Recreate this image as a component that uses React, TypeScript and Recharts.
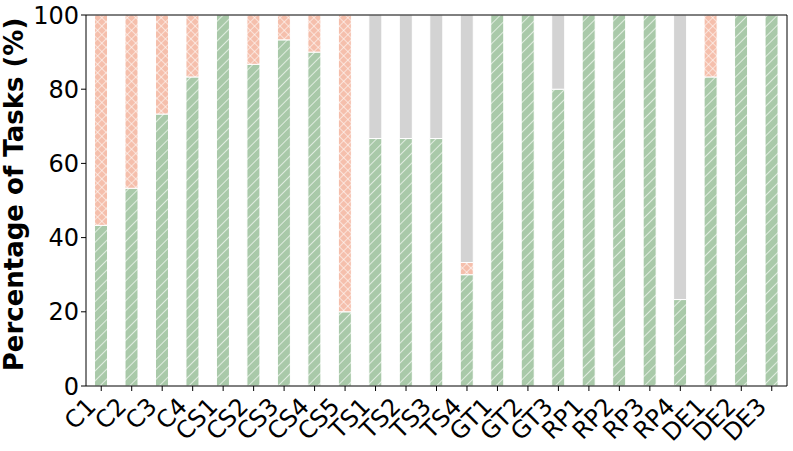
import { BarChart, Bar, XAxis, YAxis } from 'recharts'

const categories = [
    "C1", "C2", "C3", "C4", "CS1", "CS2", "CS3", "CS4", "CS5",
    "TS1", "TS2", "TS3", "TS4", "GT1", "GT2", "GT3",
    "RP1", "RP2", "RP3", "RP4", "DE1", "DE2", "DE3"
]
const success = [43.3, 53.3, 73.3, 83.3, 100, 86.7, 93.3, 90, 20, 66.7, 66.7, 66.7, 30, 100, 100, 80, 100, 100, 100, 23.3, 83.3, 100, 100]
const failed = [56.7, 46.7, 26.7, 16.7, 0, 13.3, 6.7, 10, 80, 0, 0, 0, 3.3, 0, 0, 0, 0, 0, 0, 0, 16.7, 0, 0]
const other = [0, 0, 0, 0, 0, 0, 0, 0, 0, 33.3, 33.3, 33.3, 66.7, 0, 0, 20, 0, 0, 0, 76.7, 0, 0, 0]
const yTicks = [0, 20, 40, 60, 80, 100]

const chartData = categories.map((name, i) => ({
    name,
    success: success[i],
    failed: failed[i],
    other: other[i],
}))

const FONT = "'DejaVu Sans', sans-serif"

function XTick(props: any) {
    const { x, y, payload } = props
    return (
        <text
            transform={`translate(${x - 4},${y + 15}) rotate(-45)`}
            textAnchor="end"
            fontSize={24}
            fontFamily={FONT}
            fill="#000"
        >
            {payload.value}
        </text>
    )
}

export default function App() {
    return (
        <div style={{ position: 'absolute', left: 0, top: 0, width: 793, height: 451, background: '#fff' }}>
            <BarChart
                width={793}
                height={451}
                data={chartData}
                margin={{ top: 15, right: 6, bottom: 0, left: 0 }}
                barCategoryGap="28%"
            >
                <defs>
                    <pattern id="hatchGreen" width="7" height="7" patternUnits="userSpaceOnUse" patternTransform="rotate(45)">
                        <rect width="7" height="7" fill="#a9c9a9" />
                        <line x1="0" y1="0" x2="0" y2="7" stroke="#fff" strokeWidth="1.3" />
                    </pattern>
                    <pattern id="hatchRed" width="6" height="6" patternUnits="userSpaceOnUse" patternTransform="rotate(45)">
                        <rect width="6" height="6" fill="#f5bfac" />
                        <line x1="0" y1="0" x2="0" y2="6" stroke="#fff" strokeWidth="1.1" />
                        <line x1="0" y1="0" x2="6" y2="0" stroke="#fff" strokeWidth="1.1" />
                    </pattern>
                </defs>
                <XAxis
                    dataKey="name"
                    interval={0}
                    tick={<XTick />}
                    tickLine={{ stroke: '#000' }}
                    tickSize={5}
                    height={65}
                    axisLine={{ stroke: '#000' }}
                />
                <YAxis
                    domain={[0, 100]}
                    ticks={yTicks}
                    width={86}
                    tickSize={5}
                    tickLine={{ stroke: '#000' }}
                    axisLine={{ stroke: '#000' }}
                    tick={{ fontSize: 24, fontFamily: FONT, fill: '#000' }}
                    label={{
                        value: 'Percentage of Tasks (%)',
                        angle: -90,
                        position: 'insideLeft',
                        dx: 9,
                        dy: -6,
                        style: { textAnchor: 'middle', fontSize: 26, fontWeight: 'bold', fontFamily: FONT, fill: '#000' },
                    }}
                />
                <Bar dataKey="success" stackId="a" fill="url(#hatchGreen)" stroke="#fff" strokeWidth={1} isAnimationActive={false} />
                <Bar dataKey="failed" stackId="a" fill="url(#hatchRed)" stroke="#fff" strokeWidth={1} isAnimationActive={false} />
                <Bar dataKey="other" stackId="a" fill="#d3d3d3" stroke="#fff" strokeWidth={1} isAnimationActive={false} />
            </BarChart>
            <svg style={{ position: 'absolute', left: 0, top: 0, pointerEvents: 'none' }} width={793} height={451}>
                <line x1={86} y1={15} x2={787} y2={15} stroke="#000" strokeWidth={1} />
                <line x1={787} y1={15} x2={787} y2={386} stroke="#000" strokeWidth={1} />
            </svg>
        </div>
    )
}
